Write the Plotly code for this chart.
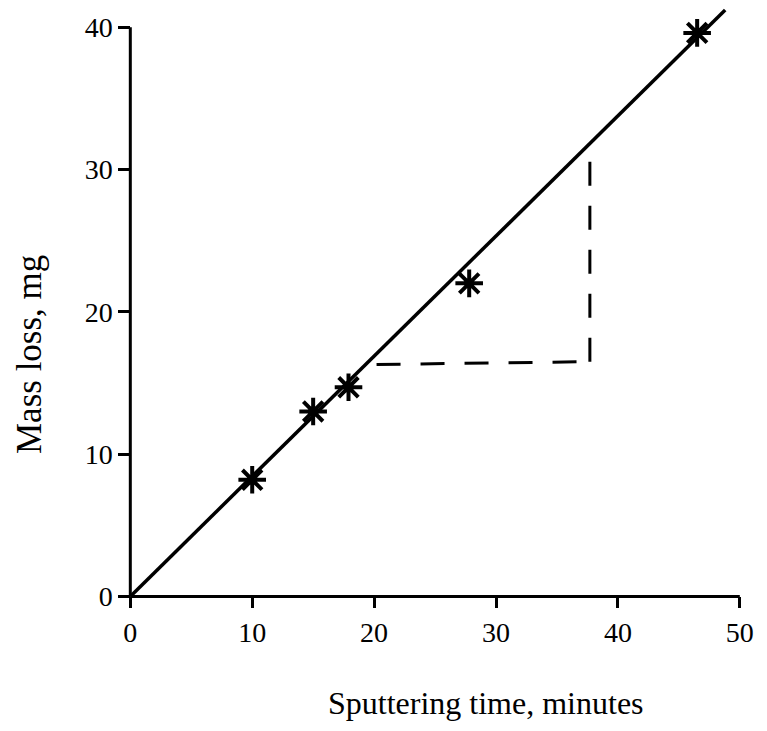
import plotly.graph_objects as go

# Data
time_min = [10, 15, 17.9, 27.8, 46.5]
mass_loss_mg = [8.2, 13.0, 14.7, 22.0, 39.6]
fit_x = [0, 48.8]
fit_y = [0, 41.2]
slope_h_x = [20.2, 37.7]
slope_h_y = [16.3, 16.5]
slope_v_x = [37.7, 37.7]
slope_v_y = [16.5, 31.6]
x_ticks = [0, 10, 20, 30, 40, 50]
y_ticks = [0, 10, 20, 30, 40]
x_title = "Sputtering time, minutes"
y_title = "Mass loss, mg"

XR = [-0.6, 51.0]
YR = [-0.6, 41.7]
FONT = "Liberation Serif"
W, H = 767, 731
M = dict(l=123, r=15, t=3, b=126)

fig = go.Figure()
fig.add_trace(go.Scatter(x=fit_x, y=fit_y, mode="lines",
                         line=dict(color="black", width=3.5), showlegend=False))
fig.add_trace(go.Scatter(x=slope_h_x, y=slope_h_y, mode="lines",
                         line=dict(color="black", width=3, dash="24px,20px"), showlegend=False))
fig.add_trace(go.Scatter(x=slope_v_x, y=slope_v_y, mode="lines",
                         line=dict(color="black", width=3, dash="24px,20px"), showlegend=False))
fig.add_trace(go.Scatter(x=time_min, y=mass_loss_mg, mode="markers",
                         marker=dict(symbol="asterisk-open", size=23, color="black",
                                     line=dict(color="black", width=4)),
                         showlegend=False))

# axis lines
fig.add_shape(type="line", x0=0, x1=0, y0=0, y1=y_ticks[-1], xref="x", yref="y",
              line=dict(color="black", width=3))
fig.add_shape(type="line", x0=0, x1=x_ticks[-1], y0=0, y1=0, xref="x", yref="y",
              line=dict(color="black", width=3))

fig.update_xaxes(range=XR, showline=False, showgrid=False, zeroline=False,
                 tickvals=x_ticks, ticks="outside", ticklen=11, tickwidth=2.5,
                 tickcolor="black", anchor="free",
                 position=(0 - YR[0]) / (YR[1] - YR[0]),
                 tickfont=dict(family=FONT, size=28, color="black"))
fig.update_yaxes(range=YR, showline=False, showgrid=False, zeroline=False,
                 tickvals=y_ticks, ticks="outside", ticklen=12, tickwidth=2.5,
                 tickcolor="black", anchor="free",
                 position=(0 - XR[0]) / (XR[1] - XR[0]),
                 tickfont=dict(family=FONT, size=28, color="black"))

# axis titles placed in pixel positions converted to paper coords
pw = W - M["l"] - M["r"]
ph = H - M["t"] - M["b"]
fig.add_annotation(text=x_title, xref="paper", yref="paper",
                   x=(486 - M["l"]) / pw, y=(H - M["b"] - 703) / ph,
                   showarrow=False, xanchor="center", yanchor="middle",
                   font=dict(family=FONT, size=32, color="black"))
fig.add_annotation(text=y_title, xref="paper", yref="paper", textangle=-90,
                   x=(29 - M["l"]) / pw, y=(H - M["b"] - 355) / ph,
                   showarrow=False, xanchor="center", yanchor="middle",
                   font=dict(family=FONT, size=35, color="black"))

fig.update_layout(width=W, height=H, margin=M,
                  plot_bgcolor="white", paper_bgcolor="white")
fig.write_html("out.html")
